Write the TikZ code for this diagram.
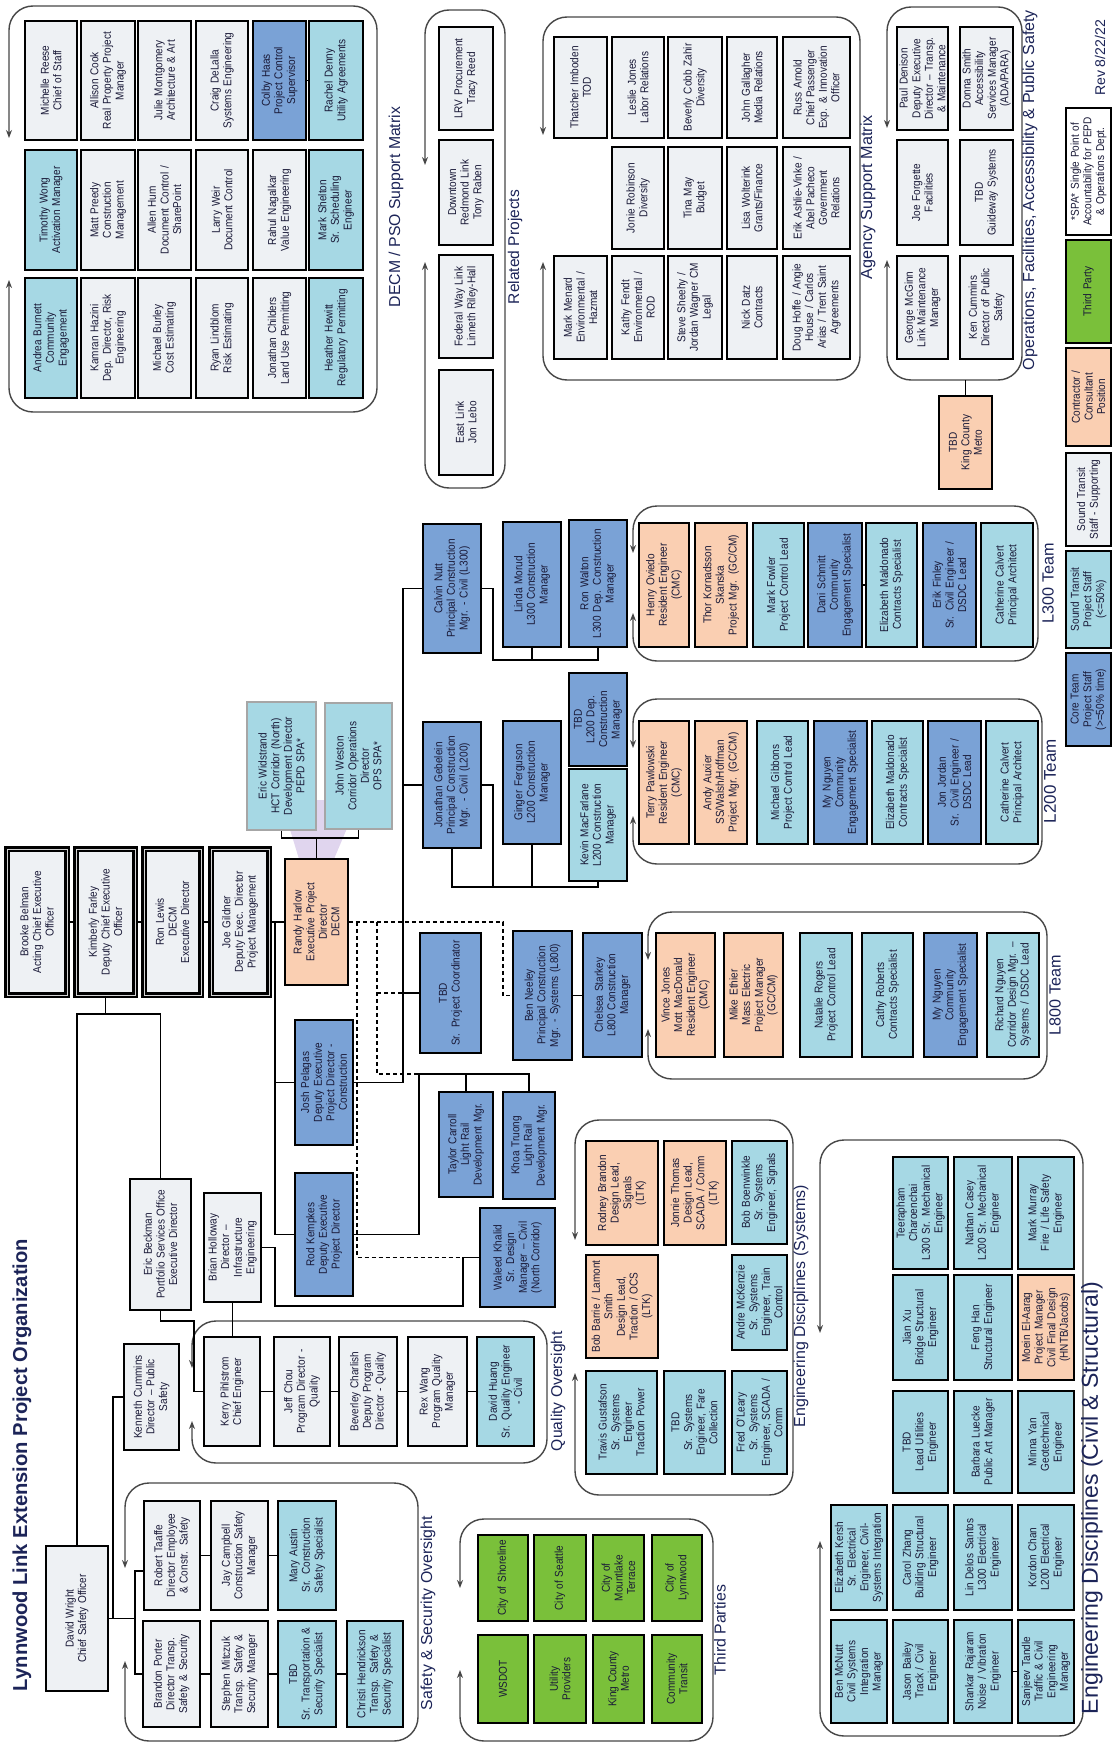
\documentclass[tikz,border=0pt]{standalone}
\usepackage{fontspec}
\setmainfont{Liberation Sans}[FakeStretch=0.88]
\newfontfamily\lblfont{Liberation Sans}
\usepackage{graphicx}
\usetikzlibrary{arrows.meta}
\definecolor{lgray}{RGB}{238,241,244}
\definecolor{cyanf}{RGB}{166,216,228}
\definecolor{bluef}{RGB}{122,162,214}
\definecolor{peachf}{RGB}{250,207,178}
\definecolor{greenf}{RGB}{122,192,58}
\definecolor{lav}{RGB}{224,213,238}
\definecolor{lblc}{RGB}{28,36,88}
\definecolor{txtc}{RGB}{25,25,55}
\definecolor{grpc}{RGB}{70,70,70}
\tikzset{
 box/.style={rotate=90, draw=black, line width=0.9pt, inner sep=0pt, align=center, text=txtc, font=\fontsize{5.7}{6.3}\selectfont},
 gbox/.style={fill=lgray},
 cbox/.style={fill=cyanf},
 bbox/.style={fill=bluef},
 pbox/.style={fill=peachf},
 tbox/.style={fill=greenf},
 wbox/.style={fill=white},
 exec/.style={fill=lgray, line width=1.1pt, double=gray!35, double distance=0.5pt},
 spa/.style={fill=cyanf, draw=gray!70, line width=0.8pt},
 grp/.style={draw=grpc, line width=0.7pt, rounded corners=12pt, {Stealth[length=4pt,width=3pt]}-{Stealth[length=4pt,width=3pt]}},
 conn/.style={draw=black, line width=0.6pt},
 dconn/.style={draw=black, line width=0.6pt, dash pattern=on 2pt off 1.5pt},
 lbl/.style={rotate=90, inner sep=0pt, text=lblc}
}
\newcommand\OB[7]{%
 \pgfmathsetmacro\obL{(#6-#4)*0.5}%
 \pgfmathsetmacro\obT{(#5-#3)*0.5}%
 \pgfmathsetmacro\obW{(#6-#4)*0.5-2}%
 \node[box,#2,minimum width=\obL pt,minimum height=\obT pt,text width=\obW pt] (#1) at ({(#3+#5)/2},{(#4+#6)/2}) {#7};}
\newcommand\LBL[5]{\node[lbl] (#1) at (#2,#3) {\resizebox{#4pt}{!}{\lblfont\fontsize{10}{12}\selectfont #5}};}
\newcommand\GRP[6]{\draw[grp] (#1,#5) |- (#3,#2) |- (#1,#4) -- (#1,#6);}
\begin{document}
\begin{tikzpicture}[x=0.5pt,y=-0.5pt]
\useasboundingbox (0,0) rectangle (1113,1744);
\fill[lav] (281,800) -- (359,800) -- (334,859) -- (299,859) -- cycle;
% containers
\GRP{9}{6}{377}{412}{138}{280}
\GRP{425}{10}{505}{488}{165}{262}
\GRP{543}{17}{860}{380}{135}{262}
\GRP{887}{7}{1022}{380}{128}{260}
\GRP{633}{506}{1038}{661}{553}{613}
\GRP{633}{699}{1042}{864}{748}{816}
\GRP{648}{912}{1047}{1079}{960}{1029}
\GRP{575}{1120}{793}{1495}{1240}{1373}
\GRP{192}{1321}{547}{1463}{1368}{1421}
\GRP{125}{1483}{418}{1741}{1568}{1661}
\GRP{460}{1519}{713}{1741}{1588}{1670}
\GRP{820}{1140}{1083}{1736}{1333}{1541}
% DECM / PSO
\OB{d11}{gbox}{25}{21}{77}{140}{Michelle Reese\\Chief of Staff}
\OB{d21}{gbox}{81}{21}{135}{140}{Allison Cook\\Real Property Project\\Manager}
\OB{d31}{gbox}{138}{21}{191}{140}{Julie Montgomery\\Architecture \& Art}
\OB{d41}{gbox}{196}{21}{248}{140}{Craig DeLalla\\Systems Engineering}
\OB{d51}{bbox}{253}{21}{306}{140}{Colby Haas\\Project Control\\Supervisor}
\OB{d61}{cbox}{309}{21}{363}{140}{Rachel Denny\\Utility Agreements}
\OB{d12}{cbox}{25}{150}{77}{270}{Timothy Wong\\Activation Manager}
\OB{d22}{gbox}{81}{150}{135}{270}{Matt Preedy\\Construction\\Management}
\OB{d32}{gbox}{138}{150}{191}{270}{Allen Hum\\Document Control /\\SharePoint}
\OB{d42}{gbox}{196}{150}{248}{270}{Larry Weir\\Document Control}
\OB{d52}{gbox}{253}{150}{306}{270}{Rahul Nagalkar\\Value Engineering}
\OB{d62}{cbox}{309}{150}{363}{270}{Mark Shelton\\Sr. Scheduling\\Engineer}
\OB{d13}{cbox}{25}{278}{77}{398}{Andrea Burnett\\Community\\Engagement}
\OB{d23}{gbox}{81}{278}{135}{398}{Kamran Hazini\\Dep. Director, Risk\\Engineering}
\OB{d33}{gbox}{138}{278}{191}{398}{Michael Burley\\Cost Estimating}
\OB{d43}{gbox}{196}{278}{248}{398}{Ryan Lindblom\\Risk Estimating}
\OB{d53}{gbox}{253}{278}{306}{398}{Jonathan Childers\\Land Use Permitting}
\OB{d63}{cbox}{309}{278}{363}{398}{Heather Hewitt\\Regulatory Permitting}
% Related projects
\OB{rp1}{gbox}{439}{27}{493}{130}{LRV Procurement\\Tracy Reed}
\OB{rp2}{gbox}{439}{140}{493}{245}{Downtown\\Redmond Link\\Tony Raben}
\OB{rp3}{gbox}{439}{255}{493}{358}{Federal Way Link\\Linneth Riley-Hall}
\OB{rp4}{gbox}{439}{370}{493}{475}{East Link\\Jon Lebo}
% Agency
\OB{a11}{gbox}{554}{37}{607}{138}{Thatcher Imboden\\TOD}
\OB{a21}{gbox}{612}{37}{664}{138}{Leslie Jones\\Labor Relations}
\OB{a31}{gbox}{668}{37}{722}{138}{Beverly Cobb Zahir\\Diversity}
\OB{a41}{gbox}{727}{37}{777}{138}{John Gallagher\\Media Relations}
\OB{a51}{gbox}{783}{37}{850}{138}{Russ Arnold\\Chief Passenger\\Exp. \& Innovation\\Officer}
\OB{a22}{gbox}{612}{147}{664}{249}{Jonie Robinson\\Diversity}
\OB{a32}{gbox}{668}{147}{722}{249}{Tina May\\Budget}
\OB{a42}{gbox}{727}{147}{777}{249}{Lisa Wolterink\\Grants/Finance}
\OB{a52}{gbox}{783}{147}{850}{249}{Erik Ashlie-Vinke /\\Abel Pacheco\\Government\\Relations}
\OB{a13}{gbox}{554}{256}{607}{359}{Mark Menard\\Environmental /\\Hazmat}
\OB{a23}{gbox}{612}{256}{664}{359}{Kathy Fendt\\Environmental /\\ROD}
\OB{a33}{gbox}{668}{256}{722}{359}{Steve Sheehy /\\Jordan Wagner CM\\Legal}
\OB{a43}{gbox}{727}{256}{777}{359}{Nick Datz\\Contracts}
\OB{a53}{gbox}{783}{256}{850}{359}{Doug Hoffe / Angie\\House / Carlos\\Arias / Trent Saint\\Agreements}
% Operations
\OB{o11}{gbox}{897}{27}{948}{130}{Paul Denison\\Deputy Executive\\Director -- Transp.\\\& Maintenance}
\OB{o21}{gbox}{960}{27}{1013}{130}{Donna Smith\\Accessibility\\Services Manager\\(ADA/PARA)}
\OB{o12}{gbox}{897}{140}{948}{245}{Joe Forgette\\Facilities}
\OB{o22}{gbox}{960}{140}{1013}{245}{TBD\\Guideway Systems}
\OB{o13}{gbox}{897}{256}{948}{359}{George McGinn\\Link Maintenance\\Manager}
\OB{o23}{gbox}{960}{256}{1013}{359}{Ken Cummins\\Director of Public\\Safety}
\OB{kcm}{pbox}{939}{396}{992}{489}{TBD\\King County\\Metro}
% Legend
\OB{lg1}{wbox}{1066}{108}{1111}{235}{*SPA* Single Point of\\Accountability for PEPD\\\& Operations Dept.}
\OB{lg2}{tbox}{1066}{240}{1111}{343}{Third Party}
\OB{lg3}{pbox}{1066}{348}{1111}{446}{Contractor /\\Consultant\\Position}
\OB{lg4}{gbox}{1066}{453}{1111}{546}{Sound Transit\\Staff - Supporting}
\OB{lg5}{cbox}{1066}{551}{1111}{648}{Sound Transit\\Project Staff\\(<=50\%)}
\OB{lg6}{bbox}{1066}{653}{1111}{746}{Core Team\\Project Staff\\(>=50\% time)}
% Executives
\OB{brooke}{exec}{7}{849}{67}{995}{Brooke Belman\\Acting Chief Executive\\Officer}
\OB{kim}{exec}{76}{849}{135}{995}{Kimberly Farley\\Deputy Chief Executive\\Officer}
\OB{ronl}{exec}{144}{849}{201}{995}{Ron Lewis\\DECM\\Executive Director}
\OB{joe}{exec}{211}{849}{269}{995}{Joe Gildner\\Deputy Exec. Director\\Project Management}
\OB{randy}{pbox}{285}{859}{348}{985}{Randy Harlow\\Executive Project\\Director\\DECM}
\OB{ew}{spa}{247}{702}{316}{830}{Eric Widstrand\\HCT Corridor (North)\\Development Director\\PEPD SPA*}
\OB{jw}{spa}{325}{703}{392}{829}{John Weston\\Corridor Operations\\Director\\OPS SPA*}
\OB{josh}{bbox}{295}{1020}{353}{1145}{Josh Pelagas\\Deputy Executive\\Project Director -\\Construction}
\OB{rod}{bbox}{295}{1173}{353}{1296}{Rod Kempkes\\Deputy Executive\\Project Director}
\OB{eb}{gbox}{130}{1179}{191}{1310}{Eric Beckman\\Portfolio Services Office\\Executive Director}
\OB{bh}{gbox}{204}{1193}{261}{1302}{Brian Holloway\\Director --\\Infrastructure\\Engineering}
\OB{tbdc}{bbox}{420}{933}{481}{1053}{TBD\\Sr. Project Coordinator}
\OB{bn}{bbox}{513}{931}{572}{1060}{Ben Neeley\\Principal Construction\\Mgr. - Systems (L800)}
\OB{cs}{bbox}{583}{933}{642}{1057}{Chelsea Starkey\\L800 Construction\\Manager}
\OB{tc}{bbox}{439}{1092}{493}{1197}{Taylor Carroll\\Light Rail\\Development Mgr.}
\OB{kt}{bbox}{503}{1092}{555}{1199}{Khoa Truong\\Light Rail\\Development Mgr.}
\OB{wk}{bbox}{480}{1208}{555}{1307}{Waleed Khalid\\Sr. Design\\Manager -- Civil\\(North Corridor)}
\OB{cn}{bbox}{423}{524}{481}{653}{Calvin Nutt\\Principal Construction\\Mgr. - Civil (L300)}
\OB{lm}{bbox}{503}{522}{561}{647}{Linda Morud\\L300 Construction\\Manager}
\OB{rw}{bbox}{569}{520}{627}{647}{Ron Walton\\L300 Dep. Construction\\Manager}
\OB{jg}{bbox}{423}{722}{481}{848}{Jonathan Gebelein\\Principal Construction\\Mgr. - Civil (L200)}
\OB{gf}{bbox}{503}{721}{561}{844}{Ginger Ferguson\\L200 Construction\\Manager}
\OB{tbdl}{bbox}{569}{673}{627}{766}{TBD\\L200 Dep.\\Construction\\Manager}
\OB{km}{cbox}{569}{769}{627}{881}{Kevin MacFarlane\\L200 Construction\\Manager}
% L300 team
\OB{l3a}{pbox}{639}{523}{689}{647}{Henry Oviedo\\Resident Engineer\\(CMC)}
\OB{l3b}{pbox}{695}{523}{747}{647}{Thor Kornadsson\\Skanska\\Project Mgr. (GC/CM)}
\OB{l3c}{cbox}{753}{523}{804}{647}{Mark Fowler\\Project Control Lead}
\OB{l3d}{bbox}{808}{523}{862}{647}{Dani Schmitt\\Community\\Engagement Specialist}
\OB{l3e}{cbox}{866}{523}{917}{647}{Elizabeth Maldonado\\Contracts Specialist}
\OB{l3f}{bbox}{923}{523}{976}{647}{Erik Finley\\Sr. Civil Engineer /\\DSDC Lead}
\OB{l3g}{cbox}{981}{523}{1033}{647}{Catherine Calvert\\Principal Architect}
% L200 team
\OB{l2a}{pbox}{639}{721}{689}{844}{Terry Pawlowski\\Resident Engineer\\(CMC)}
\OB{l2b}{pbox}{695}{721}{747}{844}{Andy Auxier\\SS/Walsh/Hoffman\\Project Mgr. (GC/CM)}
\OB{l2c}{cbox}{757}{721}{808}{844}{Michael Gibbons\\Project Control Lead}
\OB{l2d}{bbox}{814}{721}{867}{844}{My Nguyen\\Community\\Engagement Specialist}
\OB{l2e}{cbox}{872}{721}{923}{844}{Elizabeth Maldonado\\Contracts Specialist}
\OB{l2f}{bbox}{928}{721}{981}{844}{Jon Jordan\\Sr. Civil Engineer /\\DSDC Lead}
\OB{l2g}{cbox}{986}{721}{1038}{844}{Catherine Calvert\\Principal Architect}
% L800 team
\OB{l8a}{pbox}{656}{933}{715}{1057}{Vince Jones\\Mott MacDonald\\Resident Engineer\\(CMC)}
\OB{l8b}{pbox}{724}{933}{783}{1057}{Mike Ethier\\Mass Electric\\Project Manager\\(GC/CM)}
\OB{l8c}{cbox}{800}{933}{852}{1057}{Natalie Rogers\\Project Control Lead}
\OB{l8d}{cbox}{862}{933}{913}{1057}{Cathy Roberts\\Contracts Specialist}
\OB{l8e}{bbox}{924}{933}{977}{1057}{My Nguyen\\Community\\Engagement Specialist}
\OB{l8f}{cbox}{987}{933}{1039}{1057}{Richard Nguyen\\Corridor Design Mgr. --\\Systems / DSDC Lead}
% Systems
\OB{s11}{pbox}{586}{1141}{658}{1245}{Rodney Brandon\\Design Lead,\\Signals\\(LTK)}
\OB{s21}{pbox}{664}{1141}{726}{1245}{Jonnie Thomas\\Design Lead,\\SCADA / Comm\\(LTK)}
\OB{s31}{cbox}{732}{1141}{787}{1244}{Bob Boenwinkle\\Sr. Systems\\Engineer, Signals}
\OB{s12}{pbox}{586}{1255}{658}{1358}{Bob Barrie / Lamont\\Smith\\Design Lead,\\Traction / OCS\\(LTK)}
\OB{s32}{cbox}{732}{1255}{787}{1350}{Andre McKenzie\\Sr. Systems\\Engineer, Train\\Control}
\OB{s13}{cbox}{586}{1371}{657}{1474}{Travis Gustafson\\Sr. Systems\\Engineer\\Traction Power}
\OB{s23}{cbox}{664}{1371}{725}{1474}{TBD\\Sr. Systems\\Engineer, Fare\\Collection}
\OB{s33}{cbox}{732}{1371}{787}{1474}{Fred O'Leary\\Sr. Systems\\Engineer, SCADA /\\Comm}
% Quality
\OB{q1}{gbox}{204}{1337}{260}{1446}{Kerry Pihlstrom\\Chief Engineer}
\OB{q2}{gbox}{274}{1337}{330}{1446}{Jeff Chou\\Program Director -\\Quality}
\OB{q3}{gbox}{339}{1337}{397}{1446}{Beverley Charlish\\Deputy Program\\Director - Quality}
\OB{q4}{gbox}{408}{1337}{467}{1446}{Rex Wang\\Program Quality\\Manager}
\OB{q5}{cbox}{477}{1337}{534}{1446}{David Huang\\Sr. Quality Engineer\\- Civil}
\OB{kc}{gbox}{124}{1344}{179}{1450}{Kenneth Cummins\\Director -- Public\\Safety}
\OB{dw}{gbox}{46}{1546}{108}{1691}{David Wright\\Chief Safety Officer}
% Safety
\OB{sa1}{gbox}{144}{1501}{200}{1610}{Robert Taaffe\\Director Employee\\\& Constr. Safety}
\OB{sa2}{gbox}{211}{1501}{268}{1610}{Jay Campbell\\Construction Safety\\Manager}
\OB{sa3}{cbox}{278}{1501}{336}{1610}{Mary Austin\\Sr. Construction\\Safety Specialist}
\OB{sb1}{gbox}{143}{1621}{200}{1727}{Brandon Porter\\Director Transp.\\Safety \& Security}
\OB{sb2}{gbox}{211}{1621}{268}{1727}{Stephen Mitczuk\\Transp. Safety \&\\Security Manager}
\OB{sb3}{cbox}{278}{1621}{336}{1727}{TBD\\Sr. Transportation \&\\Security Specialist}
\OB{sb4}{cbox}{347}{1621}{403}{1727}{Christi Hendrickson\\Transp. Safety \&\\Security Specialist}
% Third parties
\OB{t11}{tbox}{478}{1535}{528}{1621}{City of Shoreline}
\OB{t21}{tbox}{534}{1535}{586}{1621}{City of Seattle}
\OB{t31}{tbox}{593}{1535}{644}{1621}{City of\\Mountlake\\Terrace}
\OB{t41}{tbox}{652}{1535}{702}{1621}{City of\\Lynnwood}
\OB{t12}{tbox}{478}{1635}{528}{1723}{WSDOT}
\OB{t22}{tbox}{534}{1635}{586}{1723}{Utility\\Providers}
\OB{t32}{tbox}{593}{1635}{644}{1723}{King County\\Metro}
\OB{t42}{tbox}{652}{1635}{702}{1723}{Community\\Transit}
% Civil & structural
\OB{ce2}{cbox}{893}{1157}{948}{1269}{Teerapham\\Charoenchai\\L300 Sr. Mechanical\\Engineer}
\OB{ce3}{cbox}{954}{1157}{1012}{1269}{Nathan Casey\\L200 Sr. Mechanical\\Engineer}
\OB{ce4}{cbox}{1018}{1157}{1074}{1269}{Mark Murray\\Fire / Life Safety\\Engineer}
\OB{cd2}{cbox}{893}{1275}{948}{1380}{Jian Xu\\Bridge Structural\\Engineer}
\OB{cd3}{cbox}{954}{1275}{1012}{1380}{Feng Han\\Structural Engineer}
\OB{cd4}{pbox}{1018}{1275}{1074}{1380}{Moein El-Aarag\\Project Manager\\Civil Final Design\\(HNTB/Jacobs)}
\OB{cc2}{cbox}{893}{1391}{948}{1493}{TBD\\Lead Utilities\\Engineer}
\OB{cc3}{cbox}{954}{1391}{1012}{1493}{Barbara Luecke\\Public Art Manager}
\OB{cc4}{cbox}{1018}{1391}{1074}{1493}{Minna Yan\\Geotechnical\\Engineer}
\OB{cb1}{cbox}{831}{1505}{887}{1610}{Elizabeth Kersh\\Sr. Electrical\\Engineer, Civil-\\Systems Integration}
\OB{cb2}{cbox}{893}{1505}{948}{1610}{Carol Zhang\\Building Structural\\Engineer}
\OB{cb3}{cbox}{954}{1505}{1012}{1610}{Lin Delos Santos\\L300 Electrical\\Engineer}
\OB{cb4}{cbox}{1018}{1505}{1074}{1610}{Kordon Chan\\L200 Electrical\\Engineer}
\OB{ca1}{cbox}{831}{1620}{887}{1723}{Ben McNutt\\Civil Systems\\Integration\\Manager}
\OB{ca2}{cbox}{893}{1620}{948}{1723}{Jason Bailey\\Track / Civil\\Engineer}
\OB{ca3}{cbox}{954}{1620}{1012}{1723}{Shankar Rajaram\\Noise / Vibration\\Engineer}
\OB{ca4}{cbox}{1018}{1620}{1074}{1723}{Sanjeev Tandle\\Traffic \& Civil\\Engineering\\Manager}
% Labels
\LBL{lb1}{396}{207}{100}{DECM / PSO Support Matrix}
\LBL{lb2}{515}{247}{57}{Related Projects}
\LBL{lb3}{868}{197}{82}{Agency Support Matrix}
\LBL{lb4}{1030}{190}{180}{Operations, Facilities, Accessibility \& Public Safety}
\LBL{lb5}{1100}{58}{38}{Rev 8/22/22}
\LBL{lb6}{1048}{583}{40}{L300 Team}
\LBL{lb7}{1050}{781}{42}{L200 Team}
\LBL{lb8}{1055}{995}{40}{L800 Team}
\LBL{lb9}{801}{1306}{121}{Engineering Disciplines (Systems)}
\LBL{lb10}{558}{1391}{60}{Quality Oversight}
\LBL{lb11}{428}{1613}{97}{Safety \& Security Oversight}
\LBL{lb12}{720}{1630}{45}{Third Parties}
\LBL{lb13}{1092}{1498}{216}{Engineering Disciplines (Civil \& Structural)}
\LBL{title}{22}{1465}{226}{\bfseries Lynnwood Link Extension Project Organization}
% Connectors
\draw[conn] (brooke.south) -- (kim.north);
\draw[conn] (kim.south) -- (ronl.north);
\draw[conn] (ronl.south) -- (joe.north);
\draw[conn] (joe.south) -- (randy.north);
\draw[conn] (kim.west) -- (kim.west |- 0,1014);
\draw[conn] (dw.east) |- (eb.east |- 0,1014) -- (eb.east);
\draw[conn] (rod.north) -| (275,922);
\draw[conn] (josh.north) -- (josh.north -| 275,0);
\draw[conn] (bh.south) -- (275,1247.5) |- (463,1306) |- (wk.north);
\draw[conn] (bh.west) -- (bh.west |- q1.east);
\draw[conn] (eb.west) |- (194,1321) |- (q1.north);
\draw[conn] (dw.south) -- (113,1618.5) |- (kc.north);
\draw[conn] (dw.south) -- (135,1618.5);
\draw[conn] (sa1.north |- 0,1571) -| (135,1674) -- (sb1.north);
\draw[conn] (sa1.south) -- (sa2.north);
\draw[conn] (sa2.south) -- (sa3.north);
\draw[conn] (sb1.south) -- (sb2.north);
\draw[conn] (sb2.south) -- (sb3.north);
\draw[conn] (sb3.south) -- (sb4.north);
\draw[conn] (q1.south) -- (q2.north);
\draw[conn] (q2.south) -- (q3.north);
\draw[conn] (q3.south) -- (q4.north);
\draw[conn] (q4.south) -- (q5.north);
\draw[conn] (josh.south) -- (403,1082.5) |- (cn.north);
\draw[conn] (jg.north) -- (jg.north -| 403,0);
\draw[conn] (tbdc.north) -- (tbdc.north -| 403,0);
\draw[conn] (cn.south) -- (493,588.5) |- (rw.west |- 0,660) -- (rw.west);
\draw[conn] (lm.west) -- (lm.west |- 0,660);
\draw[conn] (jg.south) -- (493,785) |- (km.west |- 0,887) -- (km.west);
\draw[conn] (jg.west) |- (493,887);
\draw[conn] (gf.west) -- (gf.west |- 0,887);
\draw[conn] (rod.south) -- (419,1234.5) |- (kt.east |- 0,1074) -- (kt.east);
\draw[conn] (tc.east) -- (tc.east |- 0,1074);
\draw[conn] (bn.south) -- (bn.south -| cs.north);
\draw[conn] (ew.west) |- (jw.west |- 0,838) -- (jw.west);
\draw[conn] (randy.east) -- (randy.east |- 0,838);
\draw[conn] (kcm.east) -- (kcm.east |- 0,380);
\draw[dconn] (randy.south) -- (503,922) |- (bn.north);
\draw[dconn] (357,922) |- (wk.north);
\draw[dconn] (377,922) |- (419,1074);
\draw[dconn] (377,993) -- (403,993);
\draw[conn] (d51.south) -- (d61.north);
\draw[conn] (l3d.south) -- (l3e.north);
\draw[conn] (ca3.south) -- (ca4.north);
\end{tikzpicture}
\end{document}
